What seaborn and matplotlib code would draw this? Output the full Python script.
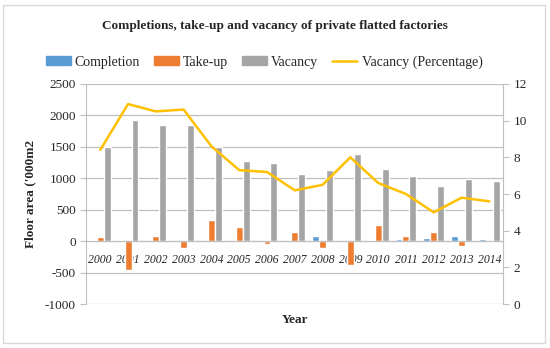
import numpy as np
import pandas as pd
import seaborn as sns
import matplotlib.pyplot as plt
from matplotlib.patches import Patch, Rectangle
from matplotlib.lines import Line2D

years = [str(y) for y in range(2000, 2015)]
completion = [15, 25, 0, 0, 0, 0, 0, 10, 80, 0, 20, 30, 50, 85, 40]
take_up = [65, -450, 90, -105, 330, 225, -40, 145, -105, -380, 265, 90, 150, -80, -10]
vacancy = [1500, 1920, 1840, 1840, 1500, 1270, 1240, 1070, 1130, 1390, 1140, 1030, 870, 990, 960]
vacancy_pct = [8.4, 10.9, 10.5, 10.6, 8.6, 7.3, 7.2, 6.2, 6.5, 8.0, 6.6, 6.0, 5.0, 5.8, 5.6]

series_names = ['Completion', 'Take-up', 'Vacancy']
colors = ['#5B9BD5', '#ED7D31', '#A5A5A5']
line_color = '#FFC000'
grid_color = '#BFBFBF'

sns.set_style('white')
plt.rcParams['font.family'] = ['Liberation Serif', 'DejaVu Serif']
plt.rcParams['axes.unicode_minus'] = False

df = pd.DataFrame({
    'year': years * 3,
    'series': sum([[n] * len(years) for n in series_names], []),
    'value': completion + take_up + vacancy,
})

fig = plt.figure(figsize=(5.5, 3.48), dpi=100)
ax = fig.add_axes([0.157, 0.126, 0.758, 0.633])

sns.barplot(data=df, x='year', y='value', hue='series', hue_order=series_names,
            palette=colors, width=0.75, saturation=1, legend=False, ax=ax)

ax.set_ylim(-1000, 2500)
ax.set_yticks(range(-1000, 2501, 500))
ax.set_xlim(-0.5, len(years) - 0.5)
ax.set_axisbelow(True)
ax.yaxis.grid(True, color=grid_color, lw=0.9)
ax.spines['bottom'].set_position(('data', 0))
ax.spines['bottom'].set_color(grid_color)
ax.spines['left'].set_color(grid_color)
ax.spines['top'].set_visible(False)
ax.spines['right'].set_visible(False)
ax.tick_params(axis='x', length=0, labelsize=8.5, pad=9)
ax.tick_params(axis='y', length=4, color=grid_color, labelsize=9.5)
for lab in ax.get_xticklabels():
    lab.set_fontstyle('italic')
ax.set_xlabel('')
ax.set_ylabel("Floor area ('000m2", fontsize=9.5, fontweight='bold', labelpad=6)
ax.text(0.5, -0.045, 'Year', transform=ax.transAxes, ha='center', va='top',
        fontsize=9.5, fontweight='bold')

ax2 = ax.twinx()
sns.lineplot(x=np.arange(len(years)), y=vacancy_pct, color=line_color, lw=1.8, ax=ax2)
ax2.set_ylim(0, 12)
ax2.set_yticks(range(0, 13, 2))
ax2.set_xlim(-0.5, len(years) - 0.5)
for s in ['top', 'bottom', 'left']:
    ax2.spines[s].set_visible(False)
ax2.spines['right'].set_color(grid_color)
ax2.tick_params(axis='y', length=4, color=grid_color, labelsize=9.5)

fig.text(0.5, 0.925, 'Completions, take-up and vacancy of private flatted factories',
         ha='center', va='center', fontsize=9.5, fontweight='bold')

handles = [Patch(color=c) for c in colors] + [Line2D([0], [0], color=line_color, lw=1.8)]
fig.legend(handles, series_names + ['Vacancy (Percentage)'], loc='center',
           bbox_to_anchor=(0.48, 0.822), ncol=4, frameon=False, fontsize=10,
           handlelength=1.8, handleheight=0.6, handletextpad=0.3, columnspacing=1.0)

fig.patches.append(Rectangle((0.006, 0.014), 0.985, 0.972, transform=fig.transFigure,
                             fill=False, edgecolor='#D9D9D9', lw=1))

plt.savefig('out.png', dpi=100)
